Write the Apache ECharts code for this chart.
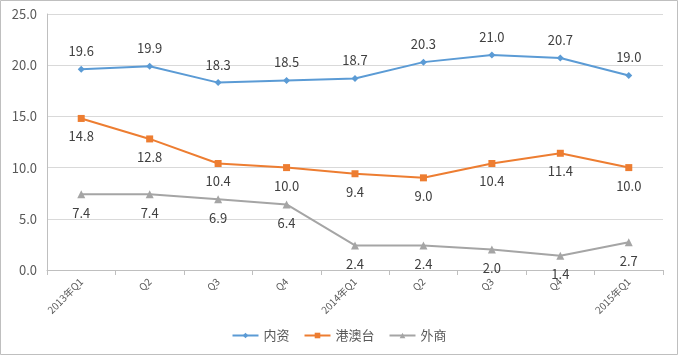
<!DOCTYPE html>
<html><head><meta charset="utf-8">
<script src="https://cdn.jsdelivr.net/npm/echarts@6/dist/echarts.min.js"></script>
<style>html,body{margin:0;padding:0;background:#fff}#c{width:678px;height:355px}</style>
</head><body><div id="c"></div>
<script>
const categories = ['2013年Q1','Q2','Q3','Q4','2014年Q1','Q2','Q3','Q4','2015年Q1'];
const neizi = [19.6,19.9,18.3,18.5,18.7,20.3,21.0,20.7,19.0];
const gangaotai = [14.8,12.8,10.4,10.0,9.4,9.0,10.4,11.4,10.0];
const waishang = [7.4,7.4,6.9,6.4,2.4,2.4,2.0,1.4,2.7];
const names = ['内资','港澳台','外商'];

const font = '"Noto Sans CJK SC", "Liberation Sans", sans-serif';
const chart = echarts.init(document.getElementById('c'));
function ser(name, data, color, symbol, size, pos){
  return {name, type:'line', data, symbol, symbolSize:size, showSymbol:true,
    lineStyle:{color, width:2}, itemStyle:{color},
    label:{show:true, position:pos, distance:8, formatter:p=>p.value.toFixed(1), color:'#404040', fontSize:13, fontFamily:font},
    emphasis:{disabled:true}, animation:false};
}
chart.setOption({
  animation:false,
  textStyle:{fontFamily:font},
  graphic:[{type:'rect', shape:{x:0.5,y:0.5,width:677,height:354}, style:{fill:null, stroke:'#bfbfbf', lineWidth:1}, silent:true}],
  grid:{left:47, right:15, top:14, bottom:85},
  legend:{bottom:8, left:'center', itemWidth:26, itemHeight:7, itemGap:14, textStyle:{color:'#595959', fontSize:13},
    data:names},
  xAxis:{type:'category', data:categories, boundaryGap:true,
    axisLine:{lineStyle:{color:'#bfbfbf'}},
    axisTick:{show:true, alignWithLabel:false, length:5, lineStyle:{color:'#bfbfbf'}},
    axisLabel:{rotate:45, color:'#595959', fontSize:10, interval:0, margin:10}},
  yAxis:{type:'value', min:0, max:25, interval:5,
    axisLine:{show:true, lineStyle:{color:'#bfbfbf'}},
    axisTick:{show:false},
    splitLine:{lineStyle:{color:'#d9d9d9'}},
    axisLabel:{formatter:v=>v.toFixed(1), color:'#595959', fontSize:13, margin:10}},
  series:[
    ser(names[0], neizi, '#5B9BD5', 'diamond', 7, 'top'),
    ser(names[1], gangaotai, '#ED7D31', 'rect', 7, 'bottom'),
    ser(names[2], waishang, '#A5A5A5', 'triangle', 8, 'bottom')
  ]
});
</script></body></html>
